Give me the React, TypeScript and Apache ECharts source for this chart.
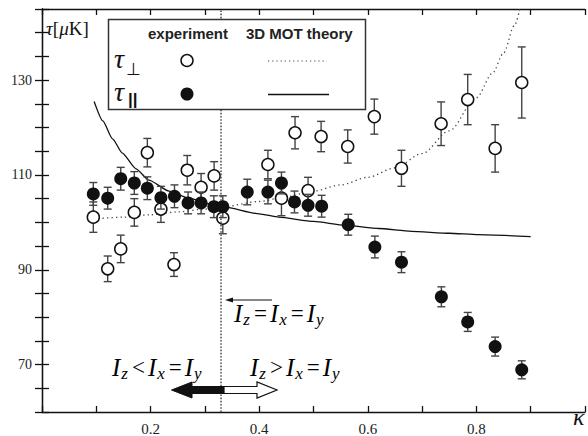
import React, { useEffect, useRef } from 'react';
import * as echarts from 'echarts';

// experiment, tau_perp (open circles)
const perpKappa = [0.0945, 0.121, 0.145, 0.170, 0.194, 0.219, 0.243, 0.2675, 0.293, 0.317, 0.333, 0.416, 0.441, 0.466, 0.490, 0.514, 0.563, 0.612, 0.662, 0.735, 0.784, 0.8345, 0.8835];
const perpTau = [101.1, 90.2, 94.4, 102.1, 114.7, 102.8, 91.1, 111.0, 107.4, 109.8, 100.9, 112.2, 105.1, 118.9, 106.7, 118.1, 116.0, 122.3, 111.4, 120.8, 125.9, 115.6, 129.5];
const perpErr = [3.2, 2.7, 2.9, 2.9, 3.0, 2.8, 2.5, 3.1, 2.9, 3.0, 3.3, 3.0, 3.7, 3.4, 2.8, 3.2, 3.5, 3.7, 3.8, 4.6, 5.3, 5.0, 7.5];

// experiment, tau_parallel (filled circles)
const parKappa = [0.0945, 0.121, 0.145, 0.170, 0.194, 0.219, 0.244, 0.269, 0.293, 0.3165, 0.333, 0.378, 0.416, 0.441, 0.465, 0.490, 0.515, 0.564, 0.613, 0.662, 0.7355, 0.784, 0.8345, 0.8835];
const parTau = [106.0, 105.1, 109.2, 108.3, 107.2, 105.2, 105.5, 104.1, 104.1, 103.3, 103.3, 106.4, 106.4, 108.3, 104.3, 103.6, 103.4, 99.5, 94.8, 91.6, 84.3, 79.0, 73.8, 68.9];
const parErr = [2.4, 2.3, 2.4, 2.4, 2.4, 2.4, 2.4, 2.3, 2.3, 2.3, 2.3, 2.7, 2.5, 2.3, 2.3, 2.3, 2.3, 2.2, 2.3, 2.2, 2.1, 2.0, 2.0, 1.9];

// 3D MOT theory curves
const theoryPerpKappa = [0.095, 0.15, 0.2, 0.25, 0.3, 0.333, 0.4, 0.45, 0.5, 0.55, 0.6, 0.65, 0.7, 0.75, 0.8, 0.83, 0.85, 0.87, 0.88];
const theoryPerpTau = [100.7, 101.1, 101.6, 102.2, 102.8, 103.3, 104.4, 105.4, 106.6, 107.9, 109.5, 111.5, 114.5, 119.3, 126.3, 131.5, 135.7, 141.5, 145.0];
const theoryParKappa = [0.096, 0.112, 0.13, 0.148, 0.173, 0.197, 0.234, 0.27, 0.313, 0.333, 0.4, 0.436, 0.5, 0.558, 0.62, 0.68, 0.75, 0.803, 0.9];
const theoryParTau = [125.5, 121.4, 117.6, 114.6, 111.3, 108.9, 106.6, 105.1, 103.8, 103.3, 101.8, 101.1, 100.2, 99.4, 98.7, 98.1, 97.7, 97.4, 97.0];

const xTickLabels = ['0.2', '0.4', '0.6', '0.8'];
const yTickLabels = ['70', '90', '110', '130'];
const isotropicKappa = 1 / 3;

const SERIF = 'Liberation Serif, serif';
const SANS = 'Liberation Sans, sans-serif';

const errRender = (params: any, api: any) => {
  const x = api.value(0);
  const lo = api.value(1);
  const hi = api.value(2);
  const p1 = api.coord([x, hi]);
  const p2 = api.coord([x, lo]);
  const cw = 4;
  const style = { stroke: '#444', lineWidth: 1.4 };
  return {
    type: 'group',
    children: [
      { type: 'line', shape: { x1: p1[0], y1: p1[1], x2: p2[0], y2: p2[1] }, style },
      { type: 'line', shape: { x1: p1[0] - cw, y1: p1[1], x2: p1[0] + cw, y2: p1[1] }, style },
      { type: 'line', shape: { x1: p2[0] - cw, y1: p2[1], x2: p2[0] + cw, y2: p2[1] }, style },
    ],
  };
};

const mathRich = {
  I: { fontSize: 25, fontStyle: 'italic', fontFamily: SERIF, color: '#111', padding: [0, 1, 0, 0] },
  s: { fontSize: 17, fontStyle: 'italic', fontFamily: SERIF, color: '#111', padding: [12, 1, 0, 0] },
  eq: { fontSize: 23, fontFamily: SERIF, color: '#111', padding: [0, 3, 0, 3] },
};

export default function App() {
  const ref = useRef<HTMLDivElement>(null);
  useEffect(() => {
    if (!ref.current) return;
    const chart = echarts.init(ref.current, undefined, { renderer: 'svg' });
    const axisLineStyle = { color: '#111', width: 1.3 };
    const xFmt = (v: number) => {
      const s = (Math.round(v * 10) / 10).toFixed(1);
      return xTickLabels.includes(s) ? s : '';
    };
    const yFmt = (v: number) => {
      const s = String(Math.round(v));
      return yTickLabels.includes(s) ? s : '';
    };
    const option: any = {
      animation: false,
      backgroundColor: '#fff',
      grid: { left: 42, right: 0, top: 9, bottom: 22 },
      xAxis: [
        {
          type: 'value', min: 0, max: 1, interval: 0.1, position: 'bottom',
          axisLine: { lineStyle: axisLineStyle },
          axisTick: { inside: true, length: 6, lineStyle: axisLineStyle },
          axisLabel: { fontFamily: SERIF, fontSize: 15, color: '#222', margin: 9, formatter: xFmt, interval: 0, hideOverlap: false },
          splitLine: { show: false },
        },
        {
          type: 'value', min: 0, max: 1, interval: 0.1, position: 'top',
          axisLine: { lineStyle: axisLineStyle },
          axisTick: { inside: true, length: 6, lineStyle: axisLineStyle },
          axisLabel: { show: false },
          splitLine: { show: false },
        },
      ],
      yAxis: [
        {
          type: 'value', min: 60, max: 145, interval: 5, position: 'left',
          axisLine: { show: true, lineStyle: axisLineStyle },
          axisTick: { show: true, inside: true, length: 7, lineStyle: axisLineStyle },
          axisLabel: { fontFamily: SERIF, fontSize: 14, color: '#222', margin: 10, formatter: yFmt, interval: 0, hideOverlap: false },
          splitLine: { show: false },
        },
        {
          type: 'value', min: 60, max: 145, interval: 5, position: 'right',
          axisLine: { show: true, lineStyle: axisLineStyle },
          axisTick: { show: true, inside: true, length: 7, lineStyle: axisLineStyle },
          axisLabel: { show: false },
          splitLine: { show: false },
        },
      ],
      series: [
        {
          type: 'line', name: 'theoryPerp',
          data: theoryPerpKappa.map((k, i) => [k, theoryPerpTau[i]]),
          showSymbol: false, smooth: 0.3, smoothMonotone: 'x',
          lineStyle: { color: '#444', width: 1.3, type: [1.3, 3.2] },
          markLine: {
            silent: true, symbol: ['none', 'none'], label: { show: false },
            lineStyle: { type: [1.6, 1.6], color: '#555', width: 1.6 },
            data: [{ xAxis: isotropicKappa }],
          },
          z: 2,
        },
        {
          type: 'line', name: 'theoryPar',
          data: theoryParKappa.map((k, i) => [k, theoryParTau[i]]),
          showSymbol: false, smooth: 0.2, smoothMonotone: 'x',
          lineStyle: { color: '#111', width: 1.3 },
          z: 2,
        },
        {
          type: 'custom', name: 'perpErr', renderItem: errRender,
          data: perpKappa.map((k, i) => [k, perpTau[i] - perpErr[i], perpTau[i] + perpErr[i]]),
          encode: { x: 0, y: [1, 2] }, z: 3,
        },
        {
          type: 'scatter', name: 'perp',
          data: perpKappa.map((k, i) => [k, perpTau[i]]),
          symbol: 'circle', symbolSize: 12,
          itemStyle: { color: '#fff', borderColor: '#111', borderWidth: 1.5, opacity: 1 },
          z: 4,
        },
        {
          type: 'custom', name: 'parErr', renderItem: errRender,
          data: parKappa.map((k, i) => [k, parTau[i] - parErr[i], parTau[i] + parErr[i]]),
          encode: { x: 0, y: [1, 2] }, z: 5,
        },
        {
          type: 'scatter', name: 'par',
          data: parKappa.map((k, i) => [k, parTau[i]]),
          symbol: 'circle', symbolSize: 13,
          itemStyle: { color: '#111', opacity: 1 },
          z: 6,
        },
      ],
      graphic: [
        // y-axis title
        {
          type: 'text', left: 46, top: 19, z: 10,
          style: {
            text: '{t|τ}{b|[}{m|μ}{b|K]}',
            rich: {
              t: { fontSize: 19, fontStyle: 'italic', fontFamily: SERIF, fill: '#111' },
              b: { fontSize: 19, fontFamily: SERIF, fill: '#111' },
              m: { fontSize: 19, fontStyle: 'italic', fontFamily: SERIF, fill: '#111' },
            },
          },
        },
        // kappa label
        {
          type: 'text', left: 573, top: 405, z: 10,
          style: { text: 'κ', fontSize: 24, fontStyle: 'italic', fontFamily: SERIF, fill: '#111' },
        },
        // legend box
        {
          type: 'rect', z: 10,
          shape: { x: 108.5, y: 19.5, width: 257, height: 90 },
          style: { fill: '#fff', stroke: '#333', lineWidth: 1.5 },
        },
        { type: 'text', z: 11, left: 148, top: 26, style: { text: 'experiment', fontSize: 15, fontWeight: 'bold', fontFamily: SANS, fill: '#222' } },
        { type: 'text', z: 11, left: 246, top: 26, style: { text: '3D MOT theory', fontSize: 15, fontWeight: 'bold', fontFamily: SANS, fill: '#222' } },
        { type: 'text', z: 11, left: 114, top: 44, style: { text: 'τ', fontSize: 28, fontStyle: 'italic', fontFamily: SERIF, fill: '#111' } },
        { type: 'text', z: 11, left: 126, top: 61, style: { text: '⊥', fontSize: 17, fontFamily: SERIF, fill: '#111' } },
        { type: 'text', z: 11, left: 114, top: 77, style: { text: 'τ', fontSize: 28, fontStyle: 'italic', fontFamily: SERIF, fill: '#111' } },
        { type: 'text', z: 11, left: 128, top: 91, style: { text: '||', fontSize: 17, fontWeight: 'bold', fontFamily: SANS, fill: '#111' } },
        { type: 'circle', z: 11, shape: { cx: 187, cy: 60.5, r: 6 }, style: { fill: '#fff', stroke: '#111', lineWidth: 1.5 } },
        { type: 'circle', z: 11, shape: { cx: 187, cy: 94, r: 6.5 }, style: { fill: '#111' } },
        { type: 'line', z: 11, shape: { x1: 268, y1: 61, x2: 327, y2: 61 }, style: { stroke: '#444', lineWidth: 1.2, lineDash: [1.2, 3] } },
        { type: 'line', z: 11, shape: { x1: 268, y1: 94.5, x2: 329, y2: 94.5 }, style: { stroke: '#111', lineWidth: 1.3 } },
        // Iz = Ix = Iy annotation with thin arrow
        { type: 'line', z: 10, shape: { x1: 272, y1: 300, x2: 230, y2: 300 }, style: { stroke: '#111', lineWidth: 1 } },
        { type: 'polygon', z: 10, shape: { points: [[225, 300], [233, 297.5], [233, 302.5]] }, style: { fill: '#111' } },
        { type: 'text', z: 10, left: 234, top: 301, style: { text: '{I|I}{s|z}{eq|=}{I|I}{s|x}{eq|=}{I|I}{s|y}', rich: mathRich } },
        { type: 'text', z: 10, left: 112, top: 355, style: { text: '{I|I}{s|z}{eq|<}{I|I}{s|x}{eq|=}{I|I}{s|y}', rich: mathRich } },
        { type: 'text', z: 10, left: 250, top: 355, style: { text: '{I|I}{s|z}{eq|>}{I|I}{s|x}{eq|=}{I|I}{s|y}', rich: mathRich } },
        // thick arrows
        {
          type: 'polygon', z: 10,
          shape: { points: [[224, 386.5], [192, 386.5], [192, 382], [171.5, 390], [192, 398], [192, 393.5], [224, 393.5]] },
          style: { fill: '#111', stroke: '#111', lineWidth: 1 },
        },
        {
          type: 'polygon', z: 10,
          shape: { points: [[224, 386.5], [257, 386.5], [257, 382], [277, 390], [257, 398], [257, 393.5], [224, 393.5]] },
          style: { fill: '#fff', stroke: '#111', lineWidth: 1.2 },
        },
      ],
    };
    chart.setOption(option);
    return () => chart.dispose();
  }, []);
  return (
    <div
      ref={ref}
      style={{ position: 'fixed', left: 0, top: 0, width: 588, height: 436, background: '#fff' }}
    />
  );
}
